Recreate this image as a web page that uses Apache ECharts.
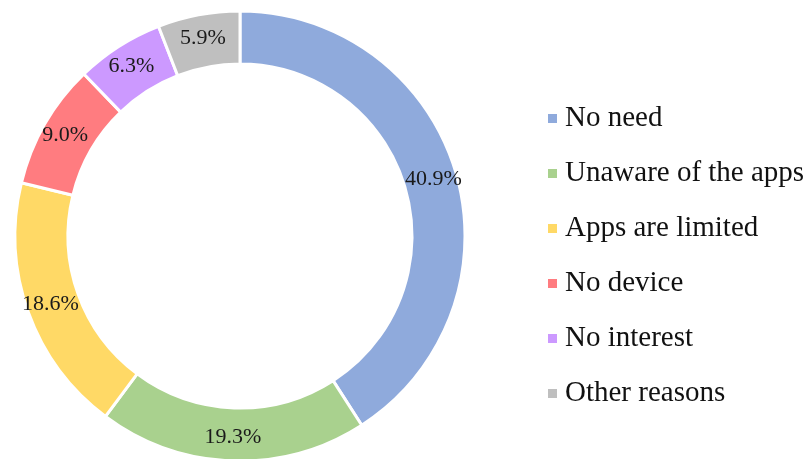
<!DOCTYPE html>
<html>
<head>
<meta charset="utf-8">
<script src="https://cdn.jsdelivr.net/npm/echarts@6/dist/echarts.min.js"></script>
<style>html,body{margin:0;padding:0;background:#fff}#c{width:812px;height:459px}</style>
</head>
<body>
<div id="c"></div>
<script>
const categories = ["No need", "Unaware of the apps", "Apps are limited", "No device", "No interest", "Other reasons"];
const values = [40.9, 19.3, 18.6, 9.0, 6.3, 5.9];
const colors = ["#8FAADC", "#A9D18E", "#FFD966", "#FF7C80", "#CC99FF", "#BFBFBF"];

const chart = echarts.init(document.getElementById('c'), null, {renderer: 'canvas'});
chart.setOption({
  animation: false,
  color: colors,
  legend: {
    orient: 'vertical',
    left: 541,
    top: 99,
    icon: 'rect',
    itemWidth: 11,
    itemHeight: 11,
    itemGap: 26,
    data: categories,
    textStyle: {fontFamily: 'Liberation Serif', fontSize: 29, lineHeight: 28, color: '#111', padding: [0, 0, 0, 2]}
  },
  series: [{
    type: 'pie',
    center: [240, 236],
    radius: [172, 225],
    startAngle: 90,
    clockwise: true,
    avoidLabelOverlap: false,
    emphasis: {disabled: true},
    itemStyle: {borderColor: '#fff', borderWidth: 3},
    label: {
      show: true,
      position: 'inside',
      formatter: p => p.value.toFixed(1) + '%',
      fontFamily: 'Liberation Serif',
      fontSize: 22,
      color: '#1a1a1a'
    },
    labelLine: {show: false},
    data: categories.map((n, i) => ({name: n, value: values[i]}))
  }]
});
</script>
</body>
</html>
